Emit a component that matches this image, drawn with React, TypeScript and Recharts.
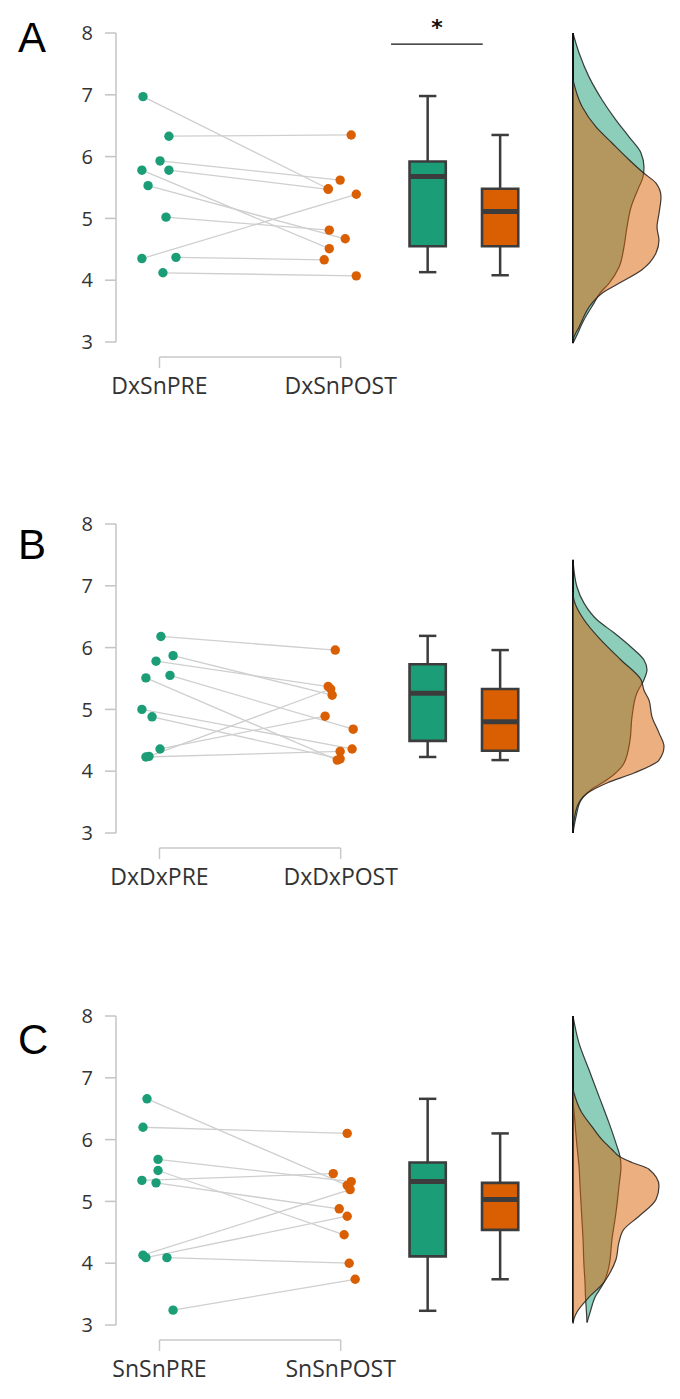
import React from 'react';
import {
  ComposedChart,
  Scatter,
  Area,
  XAxis,
  YAxis,
  ReferenceLine,
  ReferenceArea,
} from 'recharts';

const GREEN = '#1b9e77';
const ORANGE = '#d95f02';
const FONT = '"Open Sans", Lato, sans-serif';

// ---- Panel A: DxSn ----
const labelsA = ['DxSnPRE', 'DxSnPOST'];
const preA = [6.97, 6.33, 5.93, 5.78, 5.78, 5.53, 5.02, 4.35, 4.37, 4.12];
const postA = [5.48, 6.35, 5.62, 5.47, 4.51, 4.67, 4.81, 5.39, 4.33, 4.07];
const jitPreA = [-0.091, 0.052, 0.003, 0.052, -0.097, -0.063, 0.036, -0.097, 0.091, 0.019];
const jitPostA = [-0.069, 0.058, -0.003, -0.069, -0.063, 0.025, -0.063, 0.086, -0.091, 0.086];
// [min, q1, median, q3, max]
const boxPreA = [4.13, 4.55, 5.68, 5.92, 6.98];
const boxPostA = [4.08, 4.55, 5.11, 5.48, 6.35];
// density: [value, relative width]
const densPreA = [
  [8.0, 0], [7.68, 0.06], [7.29, 0.16], [6.92, 0.29], [6.59, 0.43], [6.32, 0.56], [6.06, 0.68],
  [5.83, 0.71], [5.67, 0.7], [5.51, 0.66], [5.18, 0.58], [4.86, 0.54], [4.54, 0.51], [4.21, 0.46],
  [3.95, 0.36], [3.79, 0.27], [3.63, 0.21], [3.36, 0.11], [3.08, 0.03], [2.98, 0],
];
const densPostA = [
  [7.24, 0], [6.81, 0.09], [6.48, 0.23], [6.22, 0.39], [5.95, 0.56], [5.73, 0.71], [5.57, 0.83],
  [5.35, 0.88], [5.08, 0.86], [4.86, 0.84], [4.65, 0.86], [4.44, 0.83], [4.17, 0.69], [3.95, 0.46],
  [3.79, 0.29], [3.63, 0.19], [3.24, 0.06], [3.08, 0.01], [3.0, 0],
];

// ---- Panel B: DxDx ----
const labelsB = ['DxDxPRE', 'DxDxPOST'];
const preB = [6.18, 5.87, 5.78, 5.55, 5.51, 5.0, 4.88, 4.36, 4.24, 4.23];
const postB = [5.96, 5.23, 5.37, 4.68, 4.18, 4.36, 4.2, 4.89, 5.33, 4.32];
const jitPreB = [0.008, 0.075, -0.019, 0.058, -0.075, -0.097, -0.041, 0.003, -0.058, -0.075];
const jitPostB = [-0.03, -0.047, -0.069, 0.069, -0.019, 0.063, -0.003, -0.086, -0.055, -0.003];
const boxPreB = [4.23, 4.49, 5.26, 5.73, 6.19];
const boxPostB = [4.18, 4.33, 4.8, 5.33, 5.96];
const densPreB = [
  [7.42, 0], [6.98, 0.04], [6.72, 0.11], [6.45, 0.24], [6.24, 0.41], [6.01, 0.58], [5.8, 0.71],
  [5.64, 0.74], [5.48, 0.71], [5.27, 0.64], [4.88, 0.59], [4.5, 0.57], [4.13, 0.51], [3.86, 0.34],
  [3.7, 0.18], [3.53, 0.08], [3.26, 0.03], [3.0, 0],
];
const densPostB = [
  [6.9, 0], [6.77, 0.01], [6.45, 0.11], [6.12, 0.28], [5.8, 0.48], [5.48, 0.68], [5.31, 0.71],
  [5.15, 0.76], [4.88, 0.79], [4.62, 0.86], [4.4, 0.91], [4.18, 0.86], [3.97, 0.61], [3.81, 0.34],
  [3.64, 0.14], [3.42, 0.04], [3.05, 0],
];

// ---- Panel C: SnSn ----
const labelsC = ['SnSnPRE', 'SnSnPOST'];
const preC = [6.66, 6.2, 5.68, 5.5, 5.34, 5.3, 4.13, 4.09, 4.09, 3.24];
const postC = [5.26, 6.1, 5.32, 4.46, 5.45, 4.88, 5.19, 4.76, 4.0, 3.74];
const jitPreC = [-0.069, -0.091, -0.008, -0.008, -0.097, -0.019, -0.091, -0.075, 0.041, 0.075];
const jitPostC = [0.036, 0.036, 0.058, 0.019, -0.041, -0.008, 0.052, 0.036, 0.047, 0.08];
const boxPreC = [3.23, 4.11, 5.32, 5.63, 6.66];
const boxPostC = [3.74, 4.54, 5.03, 5.3, 6.1];
// green density in C has a slanted inner edge: [value, inner, outer]
const densPreC = [
  [8.0, 0, 0], [7.56, 0, 0.06], [7.13, 0, 0.16], [6.7, 0, 0.26], [6.27, 0.02, 0.36], [5.89, 0.04, 0.44],
  [5.73, 0.05, 0.47], [5.57, 0.06, 0.48], [5.25, 0.07, 0.46], [4.82, 0.085, 0.43], [4.39, 0.1, 0.39],
  [3.95, 0.11, 0.36], [3.69, 0.12, 0.31], [3.45, 0.125, 0.22], [3.2, 0.135, 0.17], [3.04, 0.14, 0.14],
];
const densPostC = [
  [6.81, 0], [6.43, 0.09], [6.21, 0.19], [6.0, 0.29], [5.84, 0.39], [5.73, 0.46], [5.63, 0.59],
  [5.52, 0.76], [5.25, 0.86], [5.03, 0.83], [4.76, 0.66], [4.55, 0.51], [4.34, 0.46], [4.06, 0.43],
  [3.79, 0.35], [3.69, 0.31], [3.45, 0.16], [3.21, 0.04], [3.1, 0.01], [3.02, 0],
];

const Y_TICKS = [3, 4, 5, 6, 7, 8];
const PLOT_H = 309;
const GREEN_X = 2.48;
const ORANGE_X = 2.88;
const BOX_HALF = 0.1;
const CAP_HALF = 0.048;

const noShape = () => <g />;

const Dot = (color: string) => (props: any) => (
  <circle cx={props.cx} cy={props.cy} r={4.7} fill={color} />
);

function BoxPlot({ x, stats, color }: { x: number; stats: number[]; color: string }) {
  const [mn, q1, med, q3, mx] = stats;
  const s = { stroke: '#3c3c3c', strokeWidth: 2.5 };
  return (
    <>
      <ReferenceLine segment={[{ x, y: mn }, { x, y: q1 }]} {...s} />
      <ReferenceLine segment={[{ x, y: q3 }, { x, y: mx }]} {...s} />
      <ReferenceLine segment={[{ x: x - CAP_HALF, y: mn }, { x: x + CAP_HALF, y: mn }]} {...s} />
      <ReferenceLine segment={[{ x: x - CAP_HALF, y: mx }, { x: x + CAP_HALF, y: mx }]} {...s} />
      <ReferenceArea
        x1={x - BOX_HALF}
        x2={x + BOX_HALF}
        y1={q1}
        y2={q3}
        fill={color}
        fillOpacity={1}
        stroke="#3c3c3c"
        strokeWidth={2.6}
      />
      <ReferenceLine
        segment={[{ x: x - BOX_HALF, y: med }, { x: x + BOX_HALF, y: med }]}
        stroke="#3c3c3c"
        strokeWidth={5}
      />
    </>
  );
}

function CatTick(props: any) {
  const { x, y, payload, labels } = props;
  return (
    <text x={x} y={y} dy={44} textAnchor="middle" fill="#333" fontSize={23} fontFamily={FONT}>
      {labels[payload.value - 1]}
    </text>
  );
}

function PairedChart({
  labels, pre, post, jitPre, jitPost, boxPre, boxPost, sig,
}: any) {
  const preDots = pre.map((y: number, i: number) => ({ x: 1 + jitPre[i], y }));
  const postDots = post.map((y: number, i: number) => ({ x: 2 + jitPost[i], y }));
  const grey = '#c9c9c9';
  return (
    <ComposedChart width={545} height={30 + PLOT_H + 70} margin={{ top: 30, right: 5, bottom: 10, left: 0 }}>
      <XAxis
        dataKey="x"
        type="number"
        domain={[0.76, 3.1]}
        ticks={[1, 2]}
        axisLine={false}
        tickLine={false}
        height={60}
        tick={<CatTick labels={labels} />}
        allowDataOverflow
      />
      <YAxis
        dataKey="y"
        type="number"
        domain={[3, 8]}
        ticks={Y_TICKS}
        width={116}
        tickSize={11}
        tickMargin={12}
        axisLine={{ stroke: '#c4c4c4', strokeWidth: 1.5 }}
        tickLine={{ stroke: '#c4c4c4', strokeWidth: 1.5 }}
        tick={{ fill: '#333', fontSize: 20, fontFamily: FONT }}
      />
      {/* x bracket */}
      <ReferenceLine segment={[{ x: 1, y: 2.757 }, { x: 2, y: 2.757 }]} stroke={grey} strokeWidth={1.5} ifOverflow="visible" />
      <ReferenceLine segment={[{ x: 1, y: 2.757 }, { x: 1, y: 2.58 }]} stroke={grey} strokeWidth={1.5} ifOverflow="visible" />
      <ReferenceLine segment={[{ x: 2, y: 2.757 }, { x: 2, y: 2.58 }]} stroke={grey} strokeWidth={1.5} ifOverflow="visible" />
      {pre.map((y: number, i: number) => (
        <Scatter
          key={`pair-${i}`}
          data={[preDots[i], postDots[i]]}
          line={{ stroke: '#cfcfcf', strokeWidth: 1.3 }}
          lineType="joint"
          shape={noShape}
          isAnimationActive={false}
        />
      ))}
      <Scatter data={preDots} shape={Dot(GREEN)} isAnimationActive={false} />
      <Scatter data={postDots} shape={Dot(ORANGE)} isAnimationActive={false} />
      <BoxPlot x={GREEN_X} stats={boxPre} color={GREEN} />
      <BoxPlot x={ORANGE_X} stats={boxPost} color={ORANGE} />
      {sig && (
        <ReferenceLine
          segment={[{ x: 2.278, y: 7.82 }, { x: 2.784, y: 7.82 }]}
          stroke="#111"
          strokeWidth={1.4}
          ifOverflow="visible"
          label={{ value: '*', position: 'top', fill: '#111', fontSize: 22, fontWeight: 'bold', offset: 9, fontFamily: 'DejaVu Sans' }}
        />
      )}
    </ComposedChart>
  );
}

function DensityLayer({ rows, color, ranged, baseline }: any) {
  const data = rows.map((r: number[]) => ({ v: r[0], w: ranged ? [r[1], r[2]] : r[1] }));
  const vs = rows.map((r: number[]) => r[0]);
  return (
    <ComposedChart layout="vertical" width={112} height={PLOT_H + 4} data={data} margin={{ top: 2, right: 9, bottom: 2, left: 3 }}>
      <XAxis type="number" domain={[0, 1]} hide />
      <YAxis type="number" dataKey="v" domain={[3, 8]} hide allowDataOverflow reversed />
      <Area
        dataKey="w"
        type="monotone"
        fill={color}
        fillOpacity={0.5}
        stroke="#1e1e1e"
        strokeWidth={1.2}
        strokeOpacity={0.85}
        isAnimationActive={false}
      />
      {baseline && (
        <ReferenceLine
          segment={[{ x: 0, y: Math.min(...vs) }, { x: 0, y: Math.max(...vs) }]}
          stroke="#111"
          strokeWidth={2}
          ifOverflow="visible"
        />
      )}
    </ComposedChart>
  );
}

function Panel({ top, letter, letterTop, dens, ...rest }: any) {
  return (
    <>
      <div
        style={{
          position: 'absolute', left: 18, top: letterTop, fontSize: 42, lineHeight: '42px',
          fontFamily: '"Liberation Sans", Arial, sans-serif', color: '#000',
        }}
      >
        {letter}
      </div>
      <div style={{ position: 'absolute', left: 0, top: top - 30 }}>
        <PairedChart {...rest} />
      </div>
      <div style={{ position: 'absolute', left: 570, top: top - 2 }}>
        <DensityLayer rows={dens[0]} color={GREEN} ranged={dens[2]} baseline />
      </div>
      <div style={{ position: 'absolute', left: 570, top: top - 2 }}>
        <DensityLayer rows={dens[1]} color={ORANGE} />
      </div>
    </>
  );
}

export default function App() {
  return (
    <div style={{ position: 'absolute', left: 0, top: 0, width: 680, height: 1399, background: '#fff' }}>
      <Panel
        top={33} letter="A" letterTop={17}
        labels={labelsA} pre={preA} post={postA} jitPre={jitPreA} jitPost={jitPostA}
        boxPre={boxPreA} boxPost={boxPostA} sig dens={[densPreA, densPostA, false]}
      />
      <Panel
        top={524} letter="B" letterTop={524}
        labels={labelsB} pre={preB} post={postB} jitPre={jitPreB} jitPost={jitPostB}
        boxPre={boxPreB} boxPost={boxPostB} dens={[densPreB, densPostB, false]}
      />
      <Panel
        top={1016} letter="C" letterTop={1019}
        labels={labelsC} pre={preC} post={postC} jitPre={jitPreC} jitPost={jitPostC}
        boxPre={boxPreC} boxPost={boxPostC} dens={[densPreC, densPostC, true]}
      />
    </div>
  );
}
